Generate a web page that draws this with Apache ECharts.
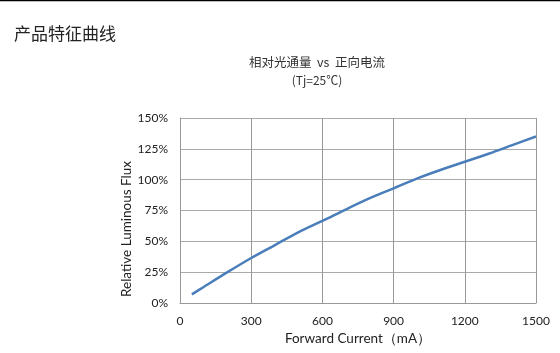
<!DOCTYPE html>
<html>
<head>
<meta charset="utf-8">
<script src="https://cdn.jsdelivr.net/npm/echarts@6/dist/echarts.min.js"></script>
<style>
html, body { margin: 0; padding: 0; background: #fff; }
#main { width: 560px; height: 353px; }
</style>
</head>
<body>
<div id="main"></div>
<script>
// 数据：正向电流(mA) 与 相对光通量(%)
var currents = [50, 100, 200, 300, 400, 500, 600, 700, 800, 900, 1000, 1100, 1200, 1300, 1400, 1500];
var fluxValues = [7, 13, 25, 36.5, 47, 57.5, 66.5, 76, 85, 93, 101, 108, 114.5, 121, 128, 135];
var xTicks = [0, 300, 600, 900, 1200, 1500];
var yTicks = [0, 25, 50, 75, 100, 125, 150];

var points = currents.map(function (c, i) { return [c, fluxValues[i]]; });

var chart = echarts.init(document.getElementById('main'));
chart.setOption({
    animation: false,
    title: [{
        text: '产品特征曲线',
        left: 9,
        top: 20,
        textStyle: { fontFamily: 'Noto Sans CJK SC', fontSize: 17, fontWeight: 'normal', color: '#222' }
    }, {
        text: '相对光通量  vs  正向电流',
        subtext: '(Tj=25℃)',
        left: 312,
        textAlign: 'center',
        top: 51,
        itemGap: 6,
        textStyle: { fontFamily: 'Noto Sans CJK SC', fontSize: 12.5, fontWeight: 'normal', color: '#333' },
        subtextStyle: { fontFamily: 'Noto Sans CJK SC', fontSize: 12, color: '#333' }
    }],
    graphic: [{
        type: 'line',
        shape: { x1: 0, y1: 0.5, x2: 560, y2: 0.5 },
        style: { stroke: '#000', lineWidth: 1.5 }
    }, {
        // 纵轴名称（原图中略偏下）
        type: 'text',
        x: 127,
        y: 229,
        rotation: Math.PI / 2,
        style: {
            text: 'Relative Luminous Flux',
            fontFamily: 'Lato',
            fontSize: 13.5,
            fill: '#222',
            align: 'center',
            verticalAlign: 'middle'
        }
    }],
    grid: { left: 180, right: 24, top: 118, bottom: 50 },
    xAxis: {
        type: 'value',
        min: xTicks[0],
        max: xTicks[xTicks.length - 1],
        interval: 300,
        name: 'Forward Current（mA）',
        nameLocation: 'middle',
        nameGap: 29,
        nameTextStyle: { fontFamily: 'Lato', fontSize: 13.5, color: '#222' },
        axisLine: { lineStyle: { color: '#999' } },
        axisTick: { show: false },
        axisLabel: { formatter: function (v) { return String(v); }, fontFamily: 'Lato', fontSize: 12, color: '#222', margin: 12 },
        splitLine: { lineStyle: { color: '#999', width: 1 } }
    },
    yAxis: {
        type: 'value',
        min: yTicks[0],
        max: yTicks[yTicks.length - 1],
        interval: 25,
        axisLine: { show: true, lineStyle: { color: '#999' } },
        axisTick: { show: false },
        axisLabel: { formatter: '{value}%', fontFamily: 'Lato', fontSize: 12, color: '#222', margin: 12 },
        splitLine: { lineStyle: { color: '#aaa', width: 1 } }
    },
    series: [{
        type: 'line',
        data: points,
        smooth: 0.3,
        showSymbol: false,
        lineStyle: { color: '#4a7ebb', width: 2.5 }
    }]
});
</script>
</body>
</html>
